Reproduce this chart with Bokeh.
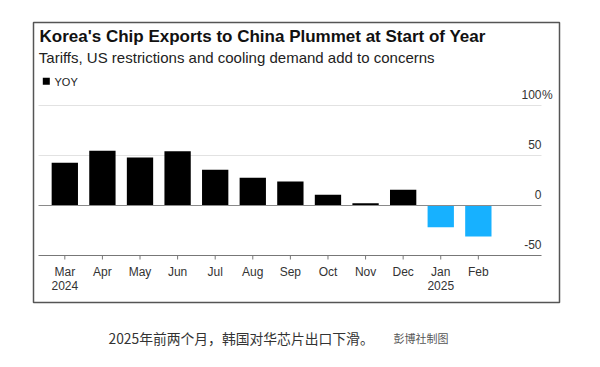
from bokeh.plotting import figure
from bokeh.models import Range1d, Label, LabelSet, BoxAnnotation, ColumnDataSource
from bokeh.core.properties import value
from bokeh.embed import file_html
from bokeh.resources import INLINE

# ---- data ----
months = ["Mar", "Apr", "May", "Jun", "Jul", "Aug", "Sep", "Oct", "Nov", "Dec", "Jan", "Feb"]
years = ["2024", "", "", "", "", "", "", "", "", "", "2025", ""]
yoy = [42.7, 54.7, 48.0, 54.3, 35.7, 27.7, 24.0, 10.7, 2.3, 15.7, -21.7, -31.0]
y_ticks = [100, 50, 0, -50]
y_tick_labels = ["100", "50", "0", "-50"]
y_unit = "%"

title_text = "Korea's Chip Exports to China Plummet at Start of Year"
subtitle_text = "Tariffs, US restrictions and cooling demand add to concerns"
legend_text = "YOY"
caption_text = "2025年前两个月，韩国对华芯片出口下滑。"
credit_text = "彭博社制图"

FONT = "Liberation Sans"
CJK = "Noto Sans CJK SC"
W, H = 600, 367

# plot area (slots) and whole-canvas ranges
XG0, XG1 = -0.70, 12.68          # extent of grid lines in slot units
PX_PER_X = 503 / (XG1 - XG0)     # grid spans 503 px
X0 = XG0 - 38 / PX_PER_X
X1 = XG1 + (W - 541) / PX_PER_X
Y1 = 205.0                       # value at canvas top (1 px per unit, zero at y=205)
Y0 = Y1 - H

p = figure(width=W, height=H, x_range=Range1d(X0, X1), y_range=Range1d(Y0, Y1),
           output_backend="svg", toolbar_location=None, title=None,
           x_axis_location=None, y_axis_location=None, min_border=0)
p.outline_line_color = None
p.background_fill_color = "white"
p.border_fill_color = "white"
p.grid.grid_line_color = None


def sy(page_y):
    return H - page_y


# border box
p.add_layout(BoxAnnotation(left=33, right=559, top=sy(22), bottom=sy(302),
                           left_units="screen", right_units="screen",
                           top_units="screen", bottom_units="screen",
                           fill_alpha=0, line_color="#555555", line_alpha=1,
                           line_width=1.5, level="underlay"))

# grid lines
light = [t for t in y_ticks if t > 0]
p.segment(x0=[XG0] * len(light), x1=[XG1] * len(light), y0=light, y1=light,
          line_color="#e2e2e2", line_width=1)

# bars
xs = list(range(len(months)))
colors = ["#000000" if v >= 0 else "#17b1ff" for v in yoy]
src = ColumnDataSource(dict(x=xs, top=yoy, color=colors))
p.vbar(x="x", top="top", bottom=0, width=0.70, fill_color="color", line_color=None, source=src)

# zero line and axis line
p.segment(x0=[XG0], x1=[XG1], y0=[0], y1=[0], line_color="#8a8a8a", line_width=1)
AXIS_Y = min(y_ticks)
p.segment(x0=[XG0], x1=[XG1], y0=[AXIS_Y], y1=[AXIS_Y], line_color="#777777", line_width=1.2)
# tick marks (4 px long, 1 px per unit)
p.segment(x0=xs, x1=xs, y0=[AXIS_Y] * len(xs), y1=[AXIS_Y - 4] * len(xs),
          line_color="#777777", line_width=1)

# x tick labels
xsrc = ColumnDataSource(dict(x=xs, y=[AXIS_Y] * len(xs), m=months, yr=years))
p.add_layout(LabelSet(x="x", y="y", text="m", source=xsrc, text_align="center",
                      text_baseline="alphabetic", y_offset=-20.5, text_font=value(FONT),
                      text_font_size="12px", text_color="#333333"))
p.add_layout(LabelSet(x="x", y="y", text="yr", source=xsrc, text_align="center",
                      text_baseline="alphabetic", y_offset=-34.5, text_font=value(FONT),
                      text_font_size="12px", text_color="#333333"))

# y labels (right, above the grid lines)
ysrc = ColumnDataSource(dict(x=[XG1] * len(y_ticks), y=y_ticks, text=y_tick_labels))
p.add_layout(LabelSet(x="x", y="y", text="text", source=ysrc, text_align="right",
                      text_baseline="alphabetic", y_offset=7, text_font=value(FONT),
                      text_font_size="12px", text_color="#333333"))
usrc = ColumnDataSource(dict(x=[XG1], y=[y_ticks[0]], text=[y_unit]))
p.add_layout(LabelSet(x="x", y="y", text="text", source=usrc, text_align="left",
                      text_baseline="alphabetic", y_offset=7, x_offset=0.5, text_font=value(FONT),
                      text_font_size="12px", text_color="#333333"))

# header
p.add_layout(Label(x=39, y=sy(35.5), x_units="screen", y_units="screen", text=title_text,
                   text_font=FONT, text_font_style="bold", text_font_size="17px",
                   text_color="#111111", text_baseline="alphabetic", text_align="left"))
p.add_layout(Label(x=38.3, y=sy(57), x_units="screen", y_units="screen", text=subtitle_text,
                   text_font=FONT, text_font_size="15px", text_color="#222222",
                   text_baseline="alphabetic", text_align="left"))
p.add_layout(BoxAnnotation(left=42.3, right=49.3, top=sy(77.3), bottom=sy(84.3),
                           left_units="screen", right_units="screen",
                           top_units="screen", bottom_units="screen",
                           fill_color="black", fill_alpha=1, line_color=None))
p.add_layout(Label(x=54, y=sy(81), x_units="screen", y_units="screen", text=legend_text,
                   text_font=FONT, text_font_size="11px", text_color="#222222",
                   text_baseline="alphabetic", text_align="left"))

# caption
p.add_layout(Label(x=108, y=sy(337.5), x_units="screen", y_units="screen", text=caption_text,
                   text_font=CJK, text_font_size="13.8px", text_color="#333333",
                   text_baseline="middle", text_align="left"))
p.add_layout(Label(x=393, y=sy(337.5), x_units="screen", y_units="screen", text=credit_text,
                   text_font=CJK, text_font_size="11px", text_color="#555555",
                   text_baseline="middle", text_align="left"))

open("out.html", "w").write(file_html(p, INLINE))
